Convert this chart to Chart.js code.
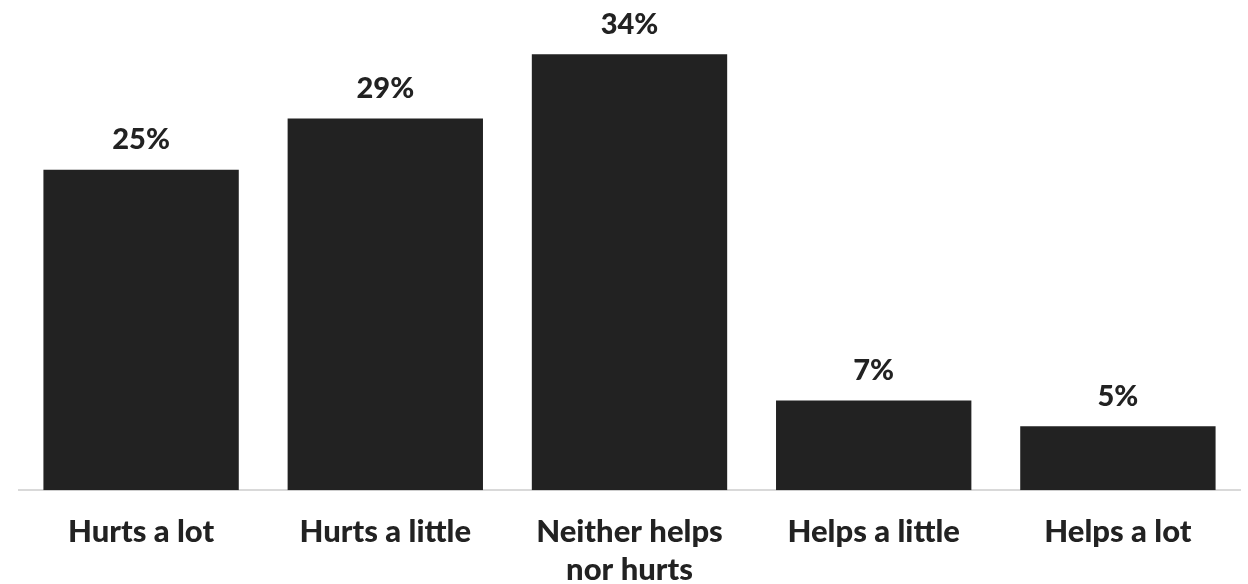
<!DOCTYPE html>
<html>
<head>
<meta charset="utf-8">
<script src="https://cdn.jsdelivr.net/npm/chart.js@4/dist/chart.umd.min.js"></script>
<style>
	html, body { margin: 0; padding: 0; background: #ffffff; }
	#wrap { width: 1248px; height: 584px; }
</style>
</head>
<body>
<div id="wrap"><canvas id="barChart"></canvas></div>
<script>
// chart data
var categories = [["Hurts a lot"], ["Hurts a little"], ["Neither helps", "nor hurts"], ["Helps a little"], ["Helps a lot"]];
var shares = [25, 29, 34, 7, 5];
var value_labels = ["25%", "29%", "34%", "7%", "5%"];

var font_family = "Lato, 'DejaVu Sans', sans-serif";

// draw the percent above each bar
var valueLabels = {
	id: "valueLabels",
	afterDatasetsDraw(chart) {
		var ctx = chart.ctx;
		var meta = chart.getDatasetMeta(0);
		ctx.save();
		ctx.fillStyle = "#222222";
		ctx.font = "900 29px " + font_family;
		ctx.textAlign = "center";
		ctx.textBaseline = "middle";
		meta.data.forEach((bar, i) => {
			ctx.fillText(value_labels[i], bar.x, bar.y - 30);
		});
		ctx.restore();
	}
};

var bar = new Chart(document.getElementById("barChart"), {
	type: "bar",
	data: {
		labels: categories,
		datasets: [
			{
				data: shares,
				backgroundColor: "#222222",
				categoryPercentage: 0.8,
				barPercentage: 1.0
			}
		]
	},
	options: {
		responsive: true,
		maintainAspectRatio: false,
		animation: false,
		layout: { padding: { left: 19, right: 8, top: 3, bottom: -28 } },
		plugins: {
			legend: { display: false },
			tooltip: { enabled: false }
		},
		scales: {
			x: {
				grid: { display: false, drawTicks: false },
				border: { display: true, color: "#d9d9d9", width: 2 },
				ticks: {
					color: "#222222",
					padding: 23,
					maxRotation: 0,
					autoSkip: false,
					font: { family: font_family, size: 31, weight: "900", lineHeight: 1.22 }
				}
			},
			y: {
				display: false,
				min: 0,
				max: 38
			}
		}
	},
	plugins: [valueLabels]
});
</script>
</body>
</html>
